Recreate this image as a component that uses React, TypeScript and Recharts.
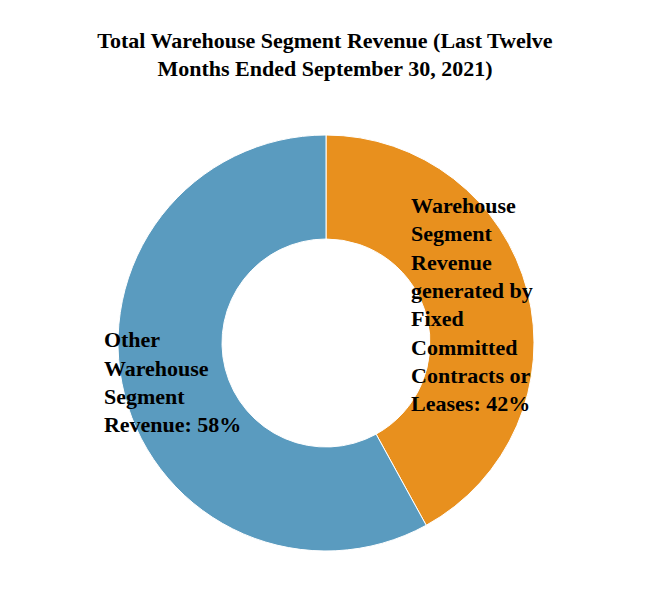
import { PieChart, Pie, Cell } from 'recharts';

const segments = ['Fixed Contracts or Leases', 'Other Warehouse Segment Revenue'];
const shares = [42, 58];
const colors = ['#E8901E', '#5A9BBF'];
const labelLines = [
  ['Warehouse', 'Segment', 'Revenue', 'generated by', 'Fixed', 'Committed', 'Contracts or', 'Leases: 42%'],
  ['Other', 'Warehouse', 'Segment', 'Revenue: 58%'],
];

const data = segments.map((name, i) => ({ name, value: shares[i] }));

const RADIAN = Math.PI / 180;
const FONT = '"Liberation Serif", "Times New Roman", serif';
const LINE_H = 28.3;
// offset from the slice centre to the left edge of each label block
const HALF_W = [66, 71];

const renderLabel = (props: any) => {
  const { cx, cy, midAngle, innerRadius, outerRadius, index } = props;
  const r = (innerRadius + outerRadius) / 2;
  const x = cx + r * Math.cos(-midAngle * RADIAN);
  const y = cy + r * Math.sin(-midAngle * RADIAN);
  const lines = labelLines[index];
  const top = y - ((lines.length - 1) * LINE_H) / 2;
  return (
    <text
      x={x - HALF_W[index]}
      y={top}
      fill="#000"
      textAnchor="start"
      dominantBaseline="central"
      style={{ fontFamily: FONT, fontSize: 22, fontWeight: 'bold' }}
    >
      {lines.map((l, i) => (
        <tspan key={i} x={x - HALF_W[index]} dy={i === 0 ? 0 : LINE_H}>
          {l}
        </tspan>
      ))}
    </text>
  );
};

export default function App() {
  return (
    <div style={{ position: 'absolute', left: 0, top: 0, width: 650, height: 600, background: '#fff' }}>
      <div
        style={{
          position: 'absolute',
          top: 27,
          left: 0,
          width: 650,
          textAlign: 'center',
          fontFamily: FONT,
          fontWeight: 'bold',
          fontSize: 22,
          lineHeight: '28px',
        }}
      >
        Total Warehouse Segment Revenue (Last Twelve
        <br />
        Months Ended September 30, 2021)
      </div>
      <PieChart width={650} height={600} style={{ position: 'absolute', left: 0, top: 0 }}>
        <Pie
          data={data}
          dataKey="value"
          nameKey="name"
          cx={321}
          cy={338}
          innerRadius={104}
          outerRadius={208}
          startAngle={90}
          endAngle={-270}
          stroke="#fff"
          strokeWidth={1}
          label={renderLabel}
          labelLine={false}
          isAnimationActive={false}
        >
          {data.map((d, i) => (
            <Cell key={d.name} fill={colors[i]} />
          ))}
        </Pie>
      </PieChart>
    </div>
  );
}
